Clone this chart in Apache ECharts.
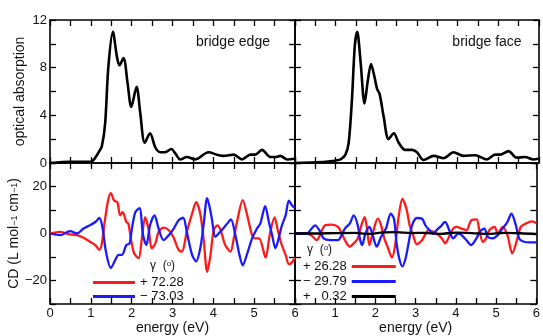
<!DOCTYPE html>
<html>
<head>
<meta charset="utf-8">
<script src="https://cdn.jsdelivr.net/npm/echarts@6/dist/echarts.min.js"></script>
<style>html,body{margin:0;padding:0;background:#fff}#c{width:543px;height:336px}</style>
</head>
<body>
<div id="c"></div>
<script>
// ---- tick labels ----
const xTickLabels = [0, 1, 2, 3, 4, 5, 6];
const absTickLabels = [0, 4, 8, 12];
const cdTickLabels = [-20, 0, 20];

// ---- optical absorption (energy eV, absorption) ----
const absEdge = [[0,0],[0.5,0.1],[1.0,0.1],[1.1,0.4],[1.2,0.95],[1.27,1.4],[1.35,3.3],[1.43,8.1],[1.54,11.0],[1.64,8.9],[1.70,8.2],[1.80,8.8],[1.90,6.7],[1.99,4.7],[2.12,6.4],[2.21,4.2],[2.32,1.7],[2.45,2.5],[2.58,1.3],[2.70,0.9],[2.82,0.9],[2.97,1.17],[3.07,0.8],[3.19,0.3],[3.35,0.5],[3.56,0.3],[3.88,0.9],[4.09,0.7],[4.25,0.6],[4.5,0.7],[4.70,0.3],[4.91,0.7],[5.03,0.7],[5.19,1.1],[5.40,0.5],[5.52,0.5],[5.64,0.6],[5.81,0.3],[6.0,0.35]];
const absFace = [[0,0],[0.5,0.05],[0.87,0.15],[1.12,0.3],[1.24,0.7],[1.32,1.7],[1.40,5.3],[1.47,9.8],[1.53,11.0],[1.61,8.6],[1.71,5.0],[1.79,6.9],[1.87,8.3],[1.95,7.3],[2.02,6.2],[2.08,5.8],[2.18,3.9],[2.30,2.0],[2.43,2.5],[2.55,1.7],[2.71,1.1],[2.88,1.1],[3.0,0.9],[3.16,0.25],[3.41,0.6],[3.65,0.4],[3.90,0.9],[4.14,0.6],[4.43,0.65],[4.72,0.3],[4.92,0.7],[5.04,0.7],[5.25,1.0],[5.45,0.45],[5.66,0.5],[5.86,0.3],[5.98,0.35]];

// ---- circular dichroism, bridge edge ----
const cdEdgePlus = [[0,0],[0.25,0.7],[0.49,-0.4],[0.66,-0.7],[0.82,-1.8],[0.98,-3.5],[1.11,-4.9],[1.21,-7.0],[1.27,-4.2],[1.35,6.3],[1.43,14.7],[1.49,17.2],[1.57,14.0],[1.65,13.3],[1.72,7.7],[1.78,9.1],[1.87,4.9],[1.92,4.2],[1.98,-2.1],[2.06,-8.4],[2.17,-10.5],[2.25,-2.1],[2.33,7.0],[2.42,1.4],[2.49,-6.3],[2.58,-4.2],[2.66,0.7],[2.78,2.5],[2.91,1.4],[3.03,-1.8],[3.15,-7.0],[3.23,-7.7],[3.35,0.7],[3.48,8.4],[3.58,13.3],[3.68,8.4],[3.76,-2.1],[3.85,-16.3],[3.93,-9.1],[4.01,1.4],[4.10,3.5],[4.18,1.4],[4.29,-4.9],[4.42,-7.7],[4.50,-2.1],[4.58,4.9],[4.72,14.2],[4.83,7.7],[4.95,-0.7],[5.03,-2.1],[5.12,-2.1],[5.28,-10.2],[5.38,-0.7],[5.50,6.8],[5.57,2.1],[5.65,-3.5],[5.77,-9.1],[5.85,-13.0],[5.91,-12.6],[6.0,-10.2]];
const cdEdgeMinus = [[0,0],[0.25,-0.7],[0.49,1.0],[0.66,0],[0.82,2.1],[0.98,3.5],[1.11,4.9],[1.21,6.6],[1.29,2.1],[1.37,-7.7],[1.49,-14.7],[1.60,-11.2],[1.68,-9.1],[1.76,-9.1],[1.87,-4.9],[1.95,-4.2],[2.0,1.4],[2.09,9.1],[2.19,10.8],[2.28,-0.7],[2.36,-4.9],[2.45,3.5],[2.56,7.7],[2.66,2.1],[2.78,-2.8],[2.91,-0.7],[3.03,2.1],[3.15,5.6],[3.26,6.7],[3.35,0.7],[3.48,-9.1],[3.58,-11.9],[3.68,-6.3],[3.76,3.5],[3.85,15.0],[3.95,7.7],[4.05,-1.4],[4.13,0],[4.24,2.1],[4.34,4.2],[4.43,6.0],[4.54,-0.7],[4.64,-9.1],[4.72,-13.6],[4.82,-9.1],[4.95,-2.1],[5.07,2.1],[5.15,4.2],[5.27,11.6],[5.36,4.9],[5.44,-0.7],[5.52,-6.3],[5.60,-2.1],[5.68,3.5],[5.77,7.7],[5.85,14.0],[5.93,11.9],[6.0,10.8]];

// ---- circular dichroism, bridge face ----
const cdFacePlus = [[0,0],[0.3,0],[0.42,-1.0],[0.54,-2.8],[0.67,1.4],[0.75,3.5],[0.91,3.8],[1.07,2.8],[1.16,0],[1.24,-2.8],[1.36,-5.6],[1.46,-4.2],[1.56,-2.1],[1.65,3.5],[1.73,7.0],[1.79,2.1],[1.85,-4.9],[1.93,0],[2.06,6.3],[2.14,3.5],[2.22,-2.1],[2.30,-5.6],[2.41,-10.2],[2.49,-4.9],[2.57,6.3],[2.67,14.7],[2.77,10.5],[2.85,3.5],[2.93,-0.4],[3.03,-4.6],[3.16,-2.8],[3.32,1.4],[3.40,1.0],[3.52,0],[3.65,-2.1],[3.73,-4.2],[3.81,-2.1],[3.93,2.1],[4.02,2.8],[4.14,2.1],[4.26,1.4],[4.38,5.6],[4.51,6.0],[4.59,0.7],[4.67,-3.5],[4.75,-2.1],[4.83,1.4],[4.96,2.8],[5.04,0],[5.16,2.8],[5.28,-0.7],[5.40,-8.4],[5.53,-2.1],[5.61,2.8],[5.73,4.2],[5.89,5.2],[6.0,4.5]];
const cdFaceMinus = [[0,0],[0.3,0],[0.38,1.4],[0.50,3.5],[0.63,0.7],[0.71,-2.1],[0.87,-2.8],[1.07,-2.8],[1.16,-0.7],[1.24,2.1],[1.36,4.2],[1.46,7.7],[1.56,3.5],[1.62,-2.8],[1.67,-4.9],[1.75,0],[1.85,2.8],[1.93,-0.7],[2.03,-5.6],[2.14,-1.4],[2.26,2.1],[2.38,8.4],[2.46,6.3],[2.52,-3.5],[2.59,-10.5],[2.67,-14.0],[2.75,-10.5],[2.83,-3.5],[2.91,3.5],[3.03,6.6],[3.16,6.3],[3.24,3.5],[3.32,1.8],[3.42,0],[3.52,1.4],[3.61,2.8],[3.73,4.9],[3.85,0.7],[3.93,-2.1],[4.06,0],[4.14,-0.7],[4.26,-2.8],[4.38,-4.9],[4.51,-2.1],[4.59,0.7],[4.71,2.1],[4.79,-1.4],[4.91,-2.1],[5.04,-0.7],[5.16,2.1],[5.28,4.9],[5.38,8.4],[5.49,3.5],[5.57,-2.1],[5.69,-3.5],[5.86,-3.8],[6.0,-3.8]];
const cdFaceSmall = [[0,0],[0.5,0],[1.0,0.2],[1.5,0.3],[1.8,-0.2],[2.2,0.5],[2.5,0.6],[2.9,0.2],[3.2,0.3],[3.6,-0.2],[4.0,0.4],[4.4,0.2],[4.8,-0.2],[5.2,0.3],[5.6,0.1],[6.0,-0.3]];

// ---- legend labels ----
const edgeNames = ['+ 72.28', '\u2212 73.03'];
const faceNames = ['+ 26.28', '\u2212 29.79', '+   0.32'];

const FONT = 'Liberation Sans, Arial, Helvetica, sans-serif';
const AXC = '#000';

const grids = [
  {left: 50, top: 20, width: 245, height: 143},
  {left: 295, top: 20, width: 244, height: 143},
  {left: 50, top: 163, width: 245, height: 143},
  {left: 295, top: 163, width: 244, height: 143}
];

function xAx(g, pos, labels, hideZero, name) {
  const o = {
    type: 'value', gridIndex: g, position: pos, min: 0, max: 6, interval: 0.5,
    axisLine: {show: true, onZero: false, lineStyle: {color: AXC, width: 1.6}},
    axisTick: {show: true, inside: true, length: 6, lineStyle: {color: AXC, width: 1.3}},
    splitLine: {show: false},
    axisLabel: {show: labels, margin: 3, fontSize: 13, fontFamily: FONT, color: '#111',
      formatter: v => (xTickLabels.includes(v) && !(hideZero && v === 0)) ? String(v) : ''}
  };
  if (name) {
    o.name = name; o.nameLocation = 'middle'; o.nameGap = 17;
    o.nameTextStyle = {fontSize: 14, fontFamily: FONT, color: '#111'};
  }
  return o;
}
function yAx(g, pos, min, max, interval, tickList, labels, name, rich, gap) {
  const o = {
    type: 'value', gridIndex: g, position: pos, min: min, max: max, interval: interval,
    axisLine: {show: true, onZero: false, lineStyle: {color: AXC, width: 1.6}},
    axisTick: {show: true, inside: true, length: 6, lineStyle: {color: AXC, width: 1.3}},
    splitLine: {show: false},
    axisLabel: {show: labels, margin: 3, fontSize: 13, fontFamily: FONT, color: '#111',
      formatter: v => tickList.includes(v) ? String(v).replace('-', '\u2212') : ''}
  };
  if (name) {
    o.name = name; o.nameLocation = 'middle'; o.nameGap = gap;
    o.nameTextStyle = {fontSize: 14, fontFamily: FONT, color: '#111', rich: rich || {}};
  }
  return o;
}

const xAxes = [
  xAx(0, 'bottom', false, false), xAx(1, 'bottom', false, false),
  xAx(2, 'bottom', true, false, 'energy (eV)'), xAx(3, 'bottom', true, true, 'energy (eV)'),
  xAx(0, 'top', false, false), xAx(1, 'top', false, false),
  xAx(2, 'top', false, false), xAx(3, 'top', false, false)
];
const subRich = {s: {fontSize: 9, fontFamily: FONT, color: '#111'}};
const yAxes = [
  yAx(0, 'left', 0, 12, 2, absTickLabels, true, 'optical absorption', null, 23),
  yAx(1, 'left', 0, 12, 2, absTickLabels, false),
  yAx(2, 'left', -30, 30, 10, cdTickLabels, true, 'CD (L mol{s|\u22121} cm{s|\u22121})', subRich, 21),
  yAx(3, 'left', -30, 30, 10, cdTickLabels, false),
  yAx(0, 'right', 0, 12, 2, absTickLabels, false),
  yAx(1, 'right', 0, 12, 2, absTickLabels, false),
  yAx(2, 'right', -30, 30, 10, cdTickLabels, false),
  yAx(3, 'right', -30, 30, 10, cdTickLabels, false)
];

function ser(name, data, g, color, width) {
  return {
    name: name, type: 'line', xAxisIndex: g, yAxisIndex: g, data: data,
    showSymbol: false, symbol: 'none', smooth: 0.3, color: color,
    lineStyle: {color: color, width: width}, animation: false, silent: true
  };
}

const RED = '#ff1a1a', BLUE = '#1a1aff';
const series = [
  ser('absEdge', absEdge, 0, '#000', 2.6),
  ser('absFace', absFace, 1, '#000', 2.6),
  ser(edgeNames[0], cdEdgePlus, 2, RED, 2.3),
  ser(edgeNames[1], cdEdgeMinus, 2, BLUE, 2.3),
  ser(faceNames[0], cdFacePlus, 3, RED, 2.3),
  ser(faceNames[1], cdFaceMinus, 3, BLUE, 2.3),
  ser(faceNames[2], cdFaceSmall, 3, '#000', 2.3)
];

const chart = echarts.init(document.getElementById('c'), null, {renderer: 'canvas'});
chart.setOption({
  animation: false,
  backgroundColor: '#fff',
  grid: grids,
  xAxis: xAxes,
  yAxis: yAxes,
  series: series,
  legend: [
    {data: edgeNames, orient: 'vertical', left: 93, top: 276, itemWidth: 42, itemHeight: 3,
      icon: 'rect', itemGap: 1, itemTextGap: 7, selectedMode: false, padding: 0,
      textStyle: {fontSize: 13, fontFamily: FONT, color: '#111', lineHeight: 13}},
    {data: faceNames, orient: 'vertical', left: 303, top: 260, itemWidth: 44, itemHeight: 3,
      icon: 'rect', itemGap: 2, itemTextGap: 6, align: 'right', selectedMode: false, padding: 0,
      textStyle: {fontSize: 13, fontFamily: FONT, color: '#111', lineHeight: 13}}
  ],
  graphic: [
    {type: 'text', x: 233, y: 42, style: {text: 'bridge edge', font: '14px ' + FONT, fill: '#111', textAlign: 'center', textVerticalAlign: 'middle', verticalAlign: 'middle'}},
    {type: 'text', x: 487, y: 42, style: {text: 'bridge face', font: '14px ' + FONT, fill: '#111', textAlign: 'center', textVerticalAlign: 'middle', verticalAlign: 'middle'}},
    {type: 'text', x: 150, y: 266, style: {text: '\u03b3  ({s|o})', font: '12px ' + FONT, fill: '#111', verticalAlign: 'middle', textVerticalAlign: 'middle', rich: {s: {fontSize: 8, fontFamily: FONT, fill: '#111', padding: [0, 0, 5, 0]}}}},
    {type: 'text', x: 307, y: 250, style: {text: '\u03b3  ({s|o})', font: '12px ' + FONT, fill: '#111', verticalAlign: 'middle', textVerticalAlign: 'middle', rich: {s: {fontSize: 8, fontFamily: FONT, fill: '#111', padding: [0, 0, 5, 0]}}}}
  ]
});
</script>
</body>
</html>
